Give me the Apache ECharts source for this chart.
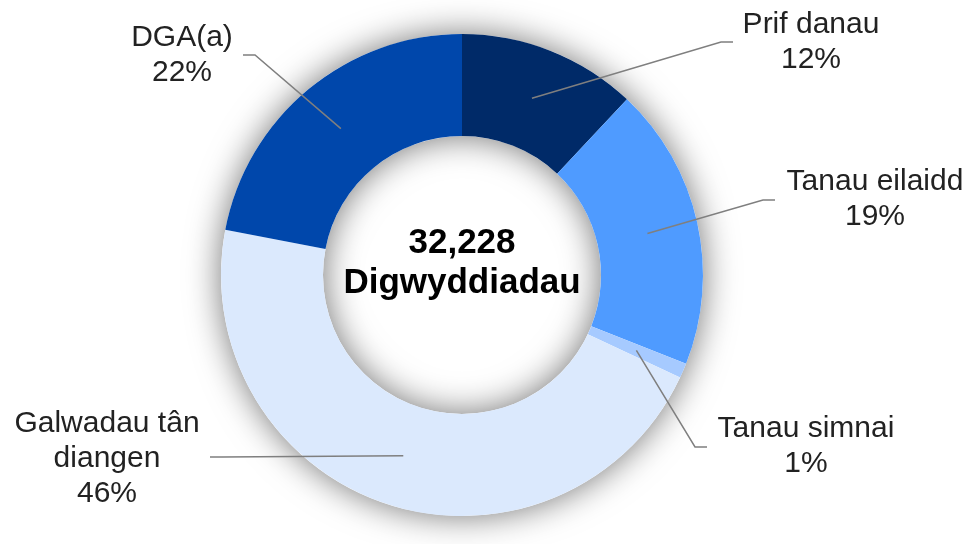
<!DOCTYPE html>
<html>
<head>
<meta charset="utf-8">
<script src="https://cdn.jsdelivr.net/npm/echarts@6/dist/echarts.min.js"></script>
<style>
  html, body { margin: 0; padding: 0; background: #fff; }
  #incidents { width: 970px; height: 544px; }
</style>
</head>
<body>
<div id="incidents"></div>
<script>
// categories + shares (%), clockwise from 12 o'clock
var categories = ["Prif danau", "Tanau eilaidd", "Tanau simnai", "Galwadau tân\ndiangen", "DGA(a)"];
var shares = [12, 19, 1, 46, 22];
var totalIncidents = 32228;
var centreWord = "Digwyddiadau";

var colours = ["#002a68", "#4f9bff", "#a6caff", "#dbe9fd", "#0047ab"];
// where each label sits (centre of text block) and where its leader line ends
var labelSpots = [[811, 42], [875, 199], [806, 446], [107, 459], [182, 55]];
var lineEnds = [[733, 42], [775, 200], [707, 447], [210, 457], [243, 55]];

var pieData = categories.map(function (name, i) {
  return { name: name, value: shares[i], itemStyle: { color: colours[i] } };
});

var myChart = echarts.init(document.getElementById("incidents"), null, { renderer: "canvas" });

myChart.setOption({
  animation: false,
  textStyle: { fontFamily: "Liberation Sans, Arial, sans-serif" },
  series: [
    // ring behind, only there for the soft shadow and the centre text
    {
      type: "pie",
      silent: true,
      z: 1,
      center: [462, 275],
      radius: [139, 241],
      data: [{ value: 1, name: "total" }],
      itemStyle: { color: "#ffffff", shadowBlur: 34, shadowColor: "rgba(0,0,0,0.55)" },
      label: {
        show: true,
        position: "center",
        formatter: echarts.format.addCommas(totalIncidents) + "\n" + centreWord,
        fontSize: 35,
        fontWeight: "bold",
        lineHeight: 40,
        color: "#000",
        offset: [0, -12]
      },
      labelLine: { show: false },
      emphasis: { disabled: true }
    },
    // the coloured slices
    {
      type: "pie",
      silent: true,
      z: 2,
      center: [462, 275],
      radius: [139, 241],
      startAngle: 90,
      clockwise: true,
      data: pieData,
      label: { show: false },
      labelLine: { show: false },
      emphasis: { disabled: true }
    },
    // invisible pie, its leader lines start mid-ring
    {
      type: "pie",
      silent: true,
      z: 5,
      center: [462, 275],
      radius: [0, 190],
      startAngle: 90,
      clockwise: true,
      avoidLabelOverlap: false,
      data: pieData.map(function (d) {
        return { name: d.name, value: d.value, itemStyle: { color: "rgba(0,0,0,0)" } };
      }),
      label: {
        show: true,
        position: "outside",
        formatter: "{b}\n{d}%",
        fontSize: 30,
        lineHeight: 35,
        color: "#222",
        align: "center"
      },
      labelLine: {
        show: true,
        length: 20,
        length2: 10,
        lineStyle: { color: "#7f7f7f", width: 1.5 }
      },
      labelLayout: function (params) {
        var i = params.dataIndex;
        var start = params.labelLinePoints ? params.labelLinePoints[0] : lineEnds[i];
        var end = lineEnds[i];
        var side = end[0] > 462 ? -1 : 1;
        var elbow = [end[0] + side * 12, end[1]];
        return {
          x: labelSpots[i][0],
          y: labelSpots[i][1],
          align: "center",
          verticalAlign: "middle",
          labelLinePoints: [start, elbow, end]
        };
      },
      emphasis: { disabled: true }
    }
  ]
});
</script>
</body>
</html>
